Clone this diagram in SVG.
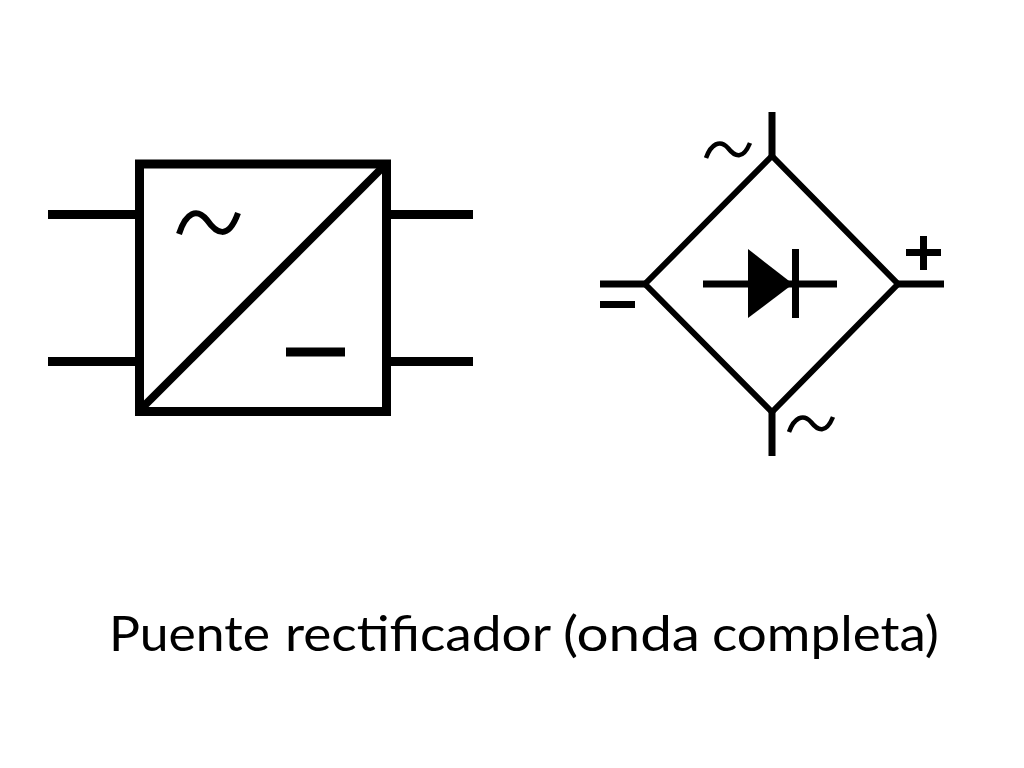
<svg xmlns="http://www.w3.org/2000/svg" width="1024" height="768" viewBox="0 0 1024 768">
<style>
.l{fill:none;stroke:#000;stroke-linecap:butt;stroke-linejoin:miter}
.w9{stroke-width:9}
.w7{stroke-width:7}
.tilde{stroke-width:4.500}
.t{font-family:Lato,"Liberation Sans",sans-serif;fill:#000}
</style>
<rect width="1024" height="768" fill="#fff"/>
<g id="converter">
<rect class="l w9" x="139.500" y="164" width="247" height="247.500"/>
<path class="l" d="M141 409L383 167" stroke-width="8"/>
<path class="l" d="M179 234C186 212 197 208 207 220C216 233 228 241 238 213" stroke-width="6"/>
<path class="l w9" d="M286 352H345"/>
</g>
<g id="bridge">
<path class="l" d="M772 156L898 284L772 412L645 284Z" stroke-width="6"/>
<path class="l w7" d="M703 284H837"/>
<path d="M748 249L793 284L748 318Z" fill="#000"/>
<path class="l w7" d="M795.500 249V318"/>
<path class="l tilde" d="M706 158C711 144 720 139 728 148C735 157 743 160 750 143"/>
<path class="l tilde" d="M789 432C794 418 803 413 811 422C818 431 826 434 833 417"/>
<path class="l w7" d="M600 304.500H635"/>
<path class="l w7" d="M906 252.500H941M923.500 236V270"/>
</g>
<g id="connectors">
<path class="l w9" d="M48 214.500H135M48 361.500H135M391 214.500H473M391 361.500H473"/>
<path class="l w7" d="M772 112V156M772 412V456M898 284H944M645 284H600"/>
</g>
<text class="t" y="651" font-size="49" lengthAdjust="spacingAndGlyphs"><tspan x="109" textLength="161" lengthAdjust="spacingAndGlyphs">Puente</tspan> <tspan x="285" textLength="265" lengthAdjust="spacingAndGlyphs">rectificador</tspan> <tspan x="563" textLength="137" lengthAdjust="spacingAndGlyphs">(onda</tspan> <tspan x="712" textLength="227" lengthAdjust="spacingAndGlyphs">completa)</tspan></text>
</svg>
